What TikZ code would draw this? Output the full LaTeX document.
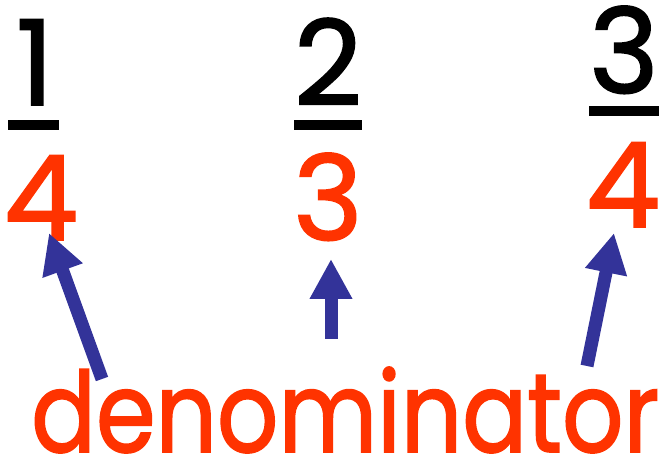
\documentclass[tikz,border=0pt]{standalone}
\usepackage{fontspec}
\setmainfont{Poppins}
\newfontfamily\heavyfont[FakeBold=1.6]{Poppins}
\usetikzlibrary{arrows.meta}
\definecolor{denred}{HTML}{FF3300}
\definecolor{arrblue}{HTML}{333399}
\begin{document}
\begin{tikzpicture}[x=1pt,y=-1pt,
  numtext/.style={inner sep=0pt,anchor=base,font=\fontsize{118}{118}\heavyfont},
  dentext/.style={numtext,text=denred},
  fracbar/.style={fill=black,inner sep=0pt,minimum height=10pt},
  pointer/.style={draw=arrblue,line width=13pt,-{Triangle[width=40pt,length=40pt]}}]
\useasboundingbox (0,0) rectangle (665,462);
% numerators
\node[numtext] (n1) at (35,105) {1};
\node[numtext] (n2) at (328,105) {2};
\node[numtext] (n3) at (624,93) {3};
% fraction bars
\node[fracbar,minimum width=51pt] (b1) at (33.5,125) {};
\node[fracbar,minimum width=68pt] (b2) at (328,125) {};
\node[fracbar,minimum width=70pt] (b3) at (624,111) {};
% denominators
\node[dentext] (d1) at (41,240) {4};
\node[dentext] (d2) at (328,240) {3};
\node[dentext] (d3) at (623,227) {4};
% word
\node[inner sep=0pt,anchor=base west,text=denred] (w) at (31,452)
  {\resizebox{628pt}{85pt}{\heavyfont denominator}};
% arrow ends
\coordinate (t1) at (102,379);
\coordinate (h1) at (49,233);
\coordinate (t2) at (331,339);
\coordinate (h2) at (331,259);
\coordinate (t3) at (587,366);
\coordinate (h3) at (614,233);
\draw[pointer] (t1) -- (h1);
\draw[pointer] (t2) -- (h2);
\draw[pointer] (t3) -- (h3);
\end{tikzpicture}
\end{document}
